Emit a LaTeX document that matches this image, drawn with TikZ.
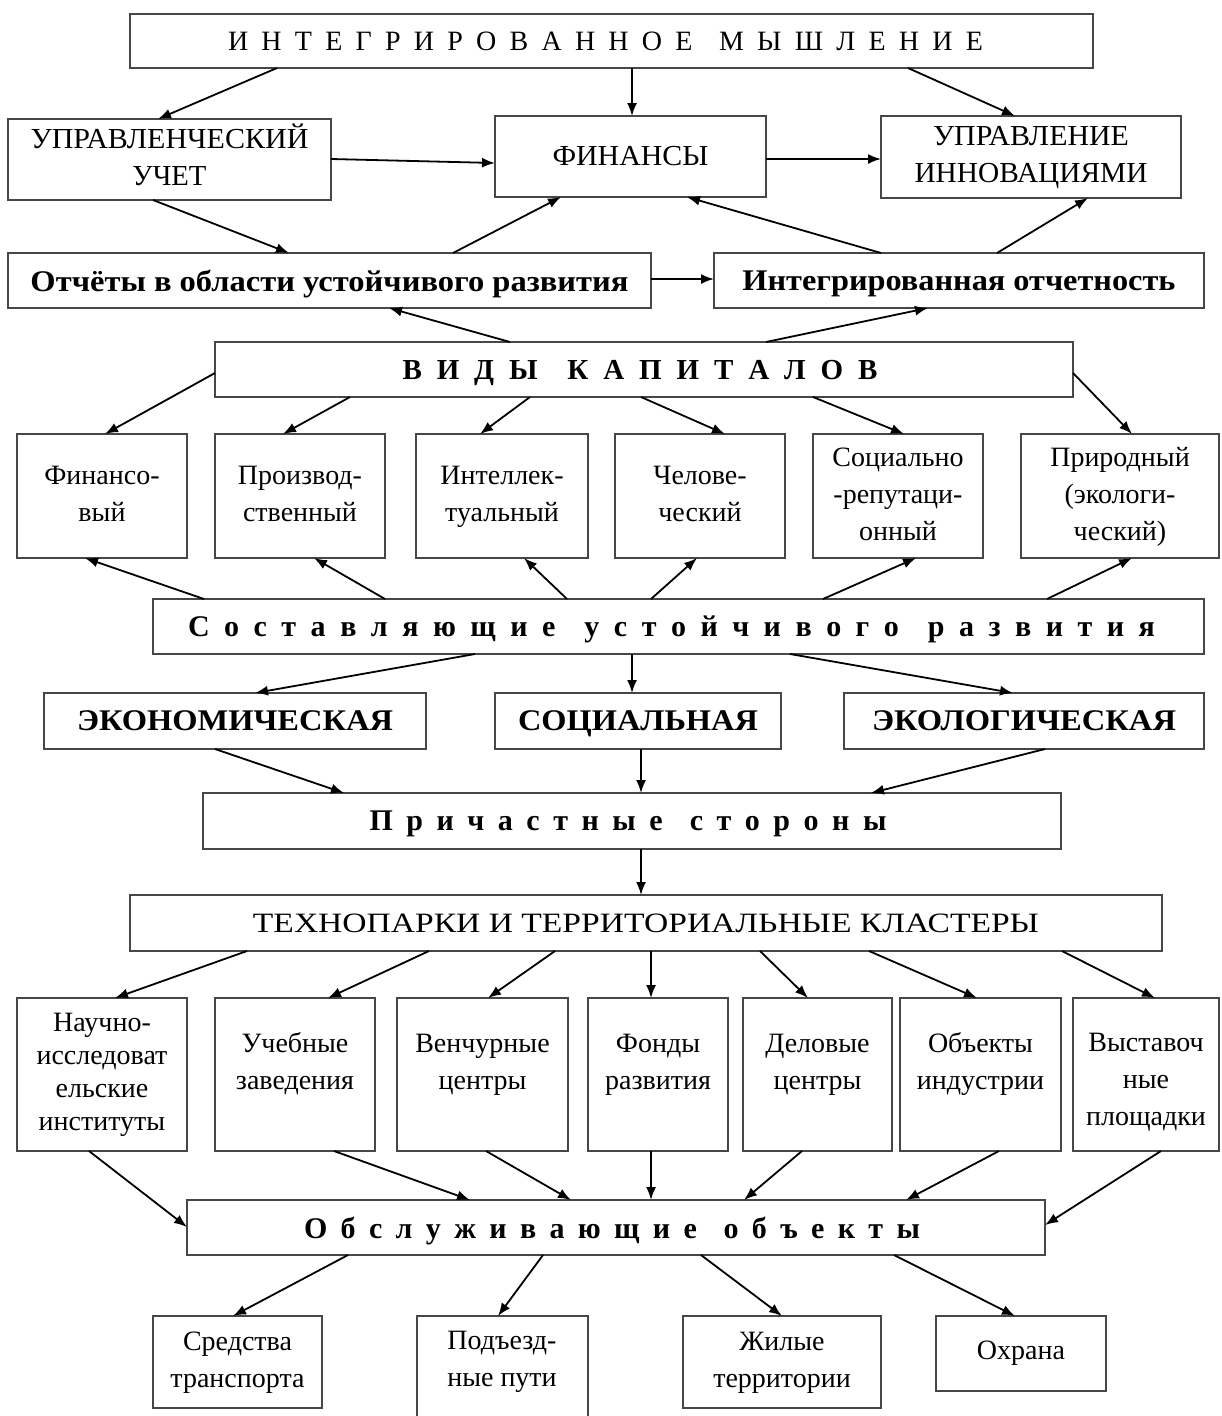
\documentclass[tikz,border=0pt]{standalone}
\usepackage{fontspec}
\setmainfont{Liberation Serif}
\usepackage{graphicx}
\usetikzlibrary{arrows.meta,calc}
\newcommand\fitw[2]{\resizebox{#1}{\height}{#2}}
\newcommand\nodepth[1]{\raisebox{0pt}[\height][0pt]{#1}}
\newcommand\myspread[2]{\makebox[#1][s]{#2}}
\newcommand\mlines[1]{\begin{tabular}{@{}c@{}}#1\end{tabular}}
\newcommand\mkbox[6]{\node[box, minimum width={(#4-#2)*1pt}, minimum height={(#5-#3)*1pt}] (#1) at ({(#2+#4)/2},{(#3+#5)/2}) {#6};}
\newcommand\bfn{\bfseries\fontsize{30}{37}\selectfont}
\newcommand\rgc{\fontsize{29}{37}\selectfont}
\begin{document}
\begin{tikzpicture}[x=1pt,y=-1pt,
  box/.style={draw=black!72, line width=1.6pt, inner sep=0pt, outer sep=0pt, font=\fontsize{28}{37}\selectfont},
  txt/.style={inner sep=0pt, font=\fontsize{28}{37}\selectfont},
  arr/.style={-{Latex[length=13pt,width=10pt]}, line width=1.8pt}]
\useasboundingbox (0,0) rectangle (1221,1416);
\fill[white] (0,0) rectangle (1221,1416);

% rows 1-3
\mkbox{top}{130}{14}{1093}{68}{\myspread{755pt}{И Н Т Е Г Р И Р О В А Н Н О Е\ \ М Ы Ш Л Е Н И Е}\hspace*{12pt}}
\mkbox{upr}{8}{119}{331}{200}{\rgc\mlines{\fitw{278pt}{УПРАВЛЕНЧЕСКИЙ}\\\fitw{74pt}{УЧЕТ}}}
\mkbox{fin}{495}{116}{766}{197}{\rgc\fitw{156pt}{ФИНАНСЫ}}
\mkbox{inn}{881}{116}{1181}{198}{\rgc\mlines{\fitw{196pt}{УПРАВЛЕНИЕ}\\\fitw{233pt}{ИННОВАЦИЯМИ}}}
\mkbox{otch}{8}{253}{651}{308}{\bfn\nodepth{\fitw{598pt}{Отчёты в области устойчивого развития}}}
\mkbox{intr}{714}{253}{1204}{308}{\bfn\nodepth{\fitw{433pt}{Интегрированная отчетность}}}

% capitals
\mkbox{vid}{215}{342}{1073}{397}{\bfseries\fontsize{29}{37}\selectfont\nodepth{\myspread{475pt}{В И Д Ы\ \ К А П И Т А Л О В}}\hspace*{8pt}}
\mkbox{k1}{17}{434}{187}{558}{\mlines{Финансо-\\вый}}
\mkbox{k2}{215}{434}{385}{558}{\mlines{Производ-\\ственный}}
\mkbox{k3}{416}{434}{588}{558}{\mlines{Интеллек-\\туальный}}
\mkbox{k4}{615}{434}{785}{558}{\mlines{Челове-\\ческий}}
\mkbox{k5}{813}{434}{983}{558}{\mlines{Социально\\-репутаци-\\онный}}
\mkbox{k6}{1021}{434}{1219}{558}{\mlines{Природный\\(экологи-\\ческий)}}

\mkbox{sost}{153}{599}{1204}{654}{\bfn\nodepth{\myspread{967pt}{С о с т а в л я ю щ и е\ \ у с т о й ч и в о г о\ \ р а з в и т и я}}\hspace*{14pt}}
\mkbox{eco}{44}{693}{426}{749}{\bfn\fitw{316pt}{ЭКОНОМИЧЕСКАЯ}}
\mkbox{soc}{495}{693}{781}{749}{\bfn\nodepth{\fitw{240pt}{СОЦИАЛЬНАЯ}}}
\mkbox{ecl}{844}{693}{1204}{749}{\bfn\fitw{304pt}{ЭКОЛОГИЧЕСКАЯ}}
\mkbox{pri}{203}{793}{1061}{849}{\bfn\nodepth{\myspread{517pt}{П р и ч а с т н ы е\ \ с т о р о н ы}}\hspace*{8pt}}
\mkbox{tech}{130}{895}{1162}{951}{\fitw{786pt}{ТЕХНОПАРКИ И ТЕРРИТОРИАЛЬНЫЕ КЛАСТЕРЫ}}

% row 10
\mkbox{t1}{17}{998}{187}{1151}{}
\mkbox{t2}{215}{998}{375}{1151}{}
\mkbox{t3}{397}{998}{568}{1151}{}
\mkbox{t4}{588}{998}{728}{1151}{}
\mkbox{t5}{743}{998}{892}{1151}{}
\mkbox{t6}{900}{998}{1061}{1151}{}
\mkbox{t7}{1073}{998}{1219}{1151}{}
\node[txt] (t1x) at ($(t1.center)+(0,0)$) {\fontsize{28}{33}\selectfont\mlines{Научно-\\исследоват\\ельские\\институты}};
\node[txt] (t2x) at ($(t2.center)+(0,-11)$) {\mlines{Учебные\\заведения}};
\node[txt] (t3x) at ($(t3.center)+(0,-11)$) {\mlines{Венчурные\\центры}};
\node[txt] (t4x) at ($(t4.center)+(0,-11)$) {\mlines{Фонды\\развития}};
\node[txt] (t5x) at ($(t5.center)+(0,-11)$) {\mlines{Деловые\\центры}};
\node[txt] (t6x) at ($(t6.center)+(0,-11)$) {\mlines{Объекты\\индустрии}};
\node[txt] (t7x) at ($(t7.center)+(0,7)$) {\mlines{Выставоч\\ные\\площадки}};

\mkbox{obs}{187}{1200}{1045}{1255}{\bfn\nodepth{\myspread{616pt}{О б с л у ж и в а ю щ и е\ \ о б ъ е к т ы}}\hspace*{8pt}}

% bottom
\mkbox{b1}{153}{1316}{322}{1408}{\mlines{Средства\\транспорта}}
\mkbox{b2}{417}{1316}{588}{1430}{}
\node[txt] (b2x) at (502,1361) {\mlines{Подъезд-\\ные пути}};
\mkbox{b3}{683}{1316}{881}{1408}{\mlines{Жилые\\территории}}
\mkbox{b4}{936}{1316}{1106}{1391}{Охрана}

% arrows
\draw[arr] ($(top.south west)+(147,0)$) -- ($(upr.north west)+(150,0)$);
\draw[arr] ($(top.south west)+(502,0)$) -- ($(fin.north west)+(137,0)$);
\draw[arr] ($(top.south west)+(778,0)$) -- ($(inn.north west)+(134,0)$);
\draw[arr] ($(upr.north east)+(0,40)$) -- ($(fin.north west)+(0,47)$);
\draw[arr] ($(fin.north east)+(0,43)$) -- ($(inn.north west)+(0,43)$);
\draw[arr] ($(upr.south west)+(145,0)$) -- ($(otch.north west)+(281,0)$);
\draw[arr] ($(otch.north west)+(445,0)$) -- ($(fin.south west)+(66,0)$);
\draw[arr] ($(intr.north west)+(167,0)$) -- ($(fin.south west)+(192,0)$);
\draw[arr] ($(intr.north west)+(283,0)$) -- ($(inn.south west)+(207,0)$);
\draw[arr] ($(otch.north east)+(0,26)$) -- ($(intr.north west)+(0,26)$);
\draw[arr] ($(vid.north west)+(295,0)$) -- ($(otch.south west)+(381,0)$);
\draw[arr] ($(vid.north west)+(551,0)$) -- ($(intr.south west)+(214,0)$);
\draw[arr] ($(vid.north west)+(0,31)$) -- ($(k1.north west)+(88,0)$);
\draw[arr] ($(vid.south west)+(135,0)$) -- ($(k2.north west)+(68,0)$);
\draw[arr] ($(vid.south west)+(315,0)$) -- ($(k3.north west)+(64,0)$);
\draw[arr] ($(vid.south west)+(426,0)$) -- ($(k4.north west)+(110,0)$);
\draw[arr] ($(vid.south west)+(598,0)$) -- ($(k5.north west)+(91,0)$);
\draw[arr] ($(vid.north east)+(0,31)$) -- ($(k6.north west)+(111,0)$);
\draw[arr] ($(sost.north west)+(51,0)$) -- ($(k1.south west)+(68,0)$);
\draw[arr] ($(sost.north west)+(232,0)$) -- ($(k2.south west)+(99,0)$);
\draw[arr] ($(sost.north west)+(414,0)$) -- ($(k3.south west)+(108,0)$);
\draw[arr] ($(sost.north west)+(498,0)$) -- ($(k4.south west)+(82,0)$);
\draw[arr] ($(sost.north west)+(670,0)$) -- ($(k5.south west)+(103,0)$);
\draw[arr] ($(sost.north west)+(894,0)$) -- ($(k6.south west)+(111,0)$);
\draw[arr] ($(sost.south west)+(322,0)$) -- ($(eco.north west)+(211,0)$);
\draw[arr] ($(sost.south west)+(479,0)$) -- ($(soc.north west)+(137,0)$);
\draw[arr] ($(sost.south west)+(637,0)$) -- ($(ecl.north west)+(169,0)$);
\draw[arr] ($(eco.south west)+(171,0)$) -- ($(pri.north west)+(141,0)$);
\draw[arr] ($(soc.south west)+(146,0)$) -- ($(pri.north west)+(438,0)$);
\draw[arr] ($(ecl.south west)+(201,0)$) -- ($(pri.north west)+(668,0)$);
\draw[arr] ($(pri.south west)+(438,0)$) -- ($(tech.north west)+(511,0)$);
\draw[arr] ($(tech.south west)+(117,0)$) -- ($(t1.north west)+(98,0)$);
\draw[arr] ($(tech.south west)+(299,0)$) -- ($(t2.north west)+(113,0)$);
\draw[arr] ($(tech.south west)+(425,0)$) -- ($(t3.north west)+(91,0)$);
\draw[arr] ($(tech.south west)+(521,0)$) -- ($(t4.north west)+(63,0)$);
\draw[arr] ($(tech.south west)+(630,0)$) -- ($(t5.north west)+(65,0)$);
\draw[arr] ($(tech.south west)+(739,0)$) -- ($(t6.north west)+(77,0)$);
\draw[arr] ($(tech.south west)+(932,0)$) -- ($(t7.north west)+(82,0)$);
\draw[arr] ($(t1.south west)+(72,0)$) -- ($(obs.north west)+(0,27)$);
\draw[arr] ($(t2.south west)+(119,0)$) -- ($(obs.north west)+(283,0)$);
\draw[arr] ($(t3.south west)+(89,0)$) -- ($(obs.north west)+(384,0)$);
\draw[arr] ($(t4.south west)+(63,0)$) -- ($(obs.north west)+(464,0)$);
\draw[arr] ($(t5.south west)+(59,0)$) -- ($(obs.north west)+(557,0)$);
\draw[arr] ($(t6.south west)+(99,0)$) -- ($(obs.north west)+(719,0)$);
\draw[arr] ($(t7.south west)+(88,0)$) -- ($(obs.north east)+(0,25)$);
\draw[arr] ($(obs.south west)+(161,0)$) -- ($(b1.north west)+(80,0)$);
\draw[arr] ($(obs.south west)+(356,0)$) -- ($(b2.north west)+(81,0)$);
\draw[arr] ($(obs.south west)+(514,0)$) -- ($(b3.north west)+(99,0)$);
\draw[arr] ($(obs.south west)+(707,0)$) -- ($(b4.north west)+(79,0)$);
\end{tikzpicture}
\end{document}
